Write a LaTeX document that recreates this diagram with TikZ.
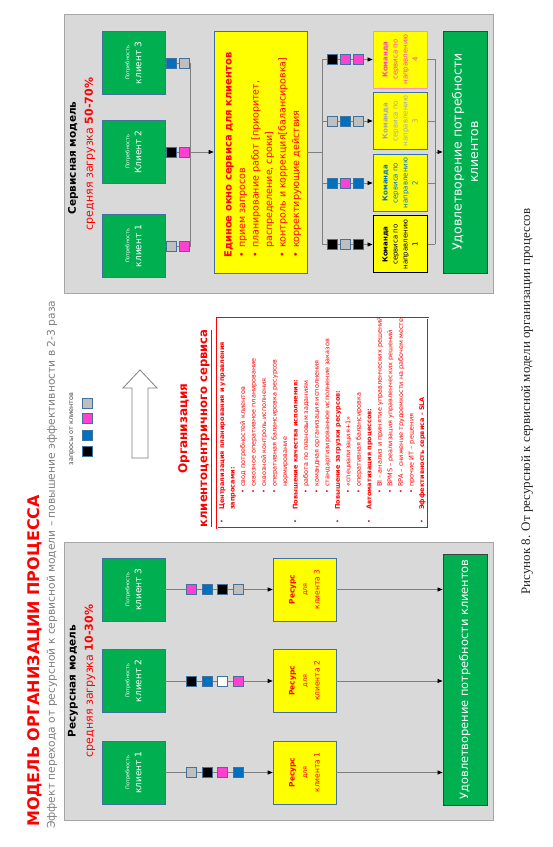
\documentclass[tikz,border=0pt]{standalone}
\usepackage{fontspec}
\setmainfont{DejaVu Sans}
\newfontfamily\capfont{Liberation Serif}
\usetikzlibrary{arrows.meta}
\definecolor{bgray}{HTML}{D9D9D9}
\definecolor{bline}{HTML}{A6A6A6}
\definecolor{lgray}{HTML}{7F7F7F}
\definecolor{cgreen}{HTML}{00B050}
\definecolor{cyel}{HTML}{FFFF00}
\definecolor{cedge}{HTML}{41719C}
\definecolor{qgray}{HTML}{BFBFBF}
\definecolor{qpink}{HTML}{FF40D0}
\definecolor{qblue}{HTML}{0070C0}
\definecolor{qblack}{HTML}{000000}
\definecolor{qwhite}{HTML}{FFFFFF}
\definecolor{cred}{HTML}{FF0000}
\definecolor{subgray}{HTML}{808080}
\definecolor{tthree}{HTML}{A6A6A6}
\definecolor{tfour}{HTML}{FF3FBF}
\definecolor{tfouredge}{HTML}{FF8FC8}
\definecolor{ttwoedge}{HTML}{2E75B6}
\newcommand\myfs[2]{\fontsize{#1}{#2}\selectfont}
\newcommand\lsttxt[3]{\node[lst] (L#1) at (#2,{329-10.53*(#1-1)}) {#3};}
\newcommand\lstbul[2]{\node[lst] (B#1) at (#2,{329-10.53*(#1-1)}) {•};}
\tikzset{
 panel/.style={draw=bline, fill=bgray, line width=0.8pt},
 client/.style={draw=cedge, fill=cgreen, line width=0.6pt, minimum width=63pt, minimum height=63pt, inner sep=0pt, align=center, text=white},
 resbox/.style={draw=cedge, fill=cyel, line width=0.6pt, minimum width=63pt, minimum height=63pt, inner sep=0pt, align=center, text=cred, font=\myfs{7.5}{12.5}},
 sq/.style={draw=cedge, line width=0.6pt, minimum size=10pt, inner sep=0pt, fill=#1},
 conn/.style={draw=lgray, line width=0.7pt},
 arr/.style={conn, -{Triangle[length=5pt,width=4pt,color=black]}},
 bar/.style={draw=black!75, fill=cgreen, line width=0.9pt, inner sep=0pt, text=white, align=center},
 team/.style={fill=cyel, line width=0.8pt, minimum width=57pt, minimum height=54pt, inner sep=0pt, align=center, font=\myfs{7}{10}},
 lst/.style={anchor=base west, inner sep=0pt, text=cred, font=\myfs{6.5}{8}},
 bt/.style={anchor=base west, inner sep=0pt, text=cred, font=\myfs{9.5}{11}},
 redbox/.style={draw=cred, double=white, double distance=0.7pt, line width=0.6pt},
}
\begin{document}
\begin{tikzpicture}[x=1pt,y=1pt]
\fill[white] (0,0) rectangle (553,847);
\useasboundingbox (0,0) rectangle (553,847);
\begin{scope}[shift={(553,0)},rotate=90,transform shape]
% title
\node[anchor=west,inner sep=0pt,text=cred,font=\bfseries\myfs{16}{19}] (title) at (20,518) {МОДЕЛЬ ОРГАНИЗАЦИИ ПРОЦЕССА};
\node[anchor=west,inner sep=0pt,text=subgray,font=\myfs{10.7}{13}] (subtitle) at (18,501) {Эффект перехода от ресурсной к сервисной модели – повышение эффективности в 2-3 раза};
% panels
\draw[panel] (27,60) rectangle (305,489);
\draw[panel] (554,60) rectangle (833,489);
\node[font=\bfseries\myfs{10.5}{12}] (rhead) at (166,480) {Ресурсная модель};
\node[text=cred,font=\myfs{11}{13}] (rload) at (166,463) {средняя загрузка \textbf{10-30\%}};
\node[font=\bfseries\myfs{10.5}{12}] (shead) at (689,480) {Сервисная модель};
\node[text=cred,font=\myfs{11}{13}] (sload) at (693,463) {средняя загрузка \textbf{50-70\%}};
% ===== resource model
\node[bar, minimum width=251pt, minimum height=44pt, font=\myfs{11.4}{14}] (rbar) at (167.5,88) {Удовлетворение потребности клиентов};
\foreach \i/\x/\a/\b/\c/\d in {1/74.5/qgray/qblack/qpink/qblue, 2/166/qblack/qblue/qwhite/qpink, 3/257.5/qpink/qblue/qblack/qgray}{
  \node[client] (rc\i) at (\x,419.5) {\myfs{5}{11.5}Потребность\\\myfs{9}{11.5}клиент \i};
  \node[resbox] (rr\i) at (\x,248.5) {\textbf{Ресурс}\\{\myfs{6.5}{12.5}для}\\клиента \i};
  \draw[arr] (rc\i.south) -- (rr\i.north);
  \draw[arr] (rr\i.south) -- (rr\i.south |- rbar.north);
  \node[sq=\a] (ra\i) at (\x,362) {};
  \node[sq=\b] (rb\i) at (\x,346) {};
  \node[sq=\c] (rcc\i) at (\x,331) {};
  \node[sq=\d] (rd\i) at (\x,315) {};
}
% ===== legend and arrow
\node[font=\myfs{6.5}{8}, text=black!75] (legtxt) at (418,481) {запросы от клиентов};
\node[sq=qblack] (lg1) at (395.3,466) {};
\node[sq=qblue] (lg2) at (412,466) {};
\node[sq=qpink] (lg3) at (428.7,466) {};
\node[sq=qgray] (lg4) at (443.7,466) {};
\draw[draw=lgray, fill=white, line width=0.8pt] (389,405) -- (459,405) -- (459,396) -- (477,413) -- (459,430) -- (459,421) -- (389,421) -- cycle;
\node[text=cred, font=\bfseries\myfs{12}{14}] (org1) at (418.5,369) {Организация};
\node[text=cred, font=\bfseries\myfs{11.6}{14}] (org2) at (418.5,347) {\underline{клиентоцентричного сервиса}};
% ===== red box list
\draw[redbox] (319,125) rectangle (529,336);
\lstbul{1}{323}\lsttxt{1}{337}{\textbf{Централизация планирования и управления}}
\lsttxt{2}{337}{\textbf{запросами:}}
\lstbul{3}{353}\lsttxt{3}{360}{свод потребностей клиентов}
\lstbul{4}{353}\lsttxt{4}{360}{сквозное оперативное планирование}
\lstbul{5}{353}\lsttxt{5}{360}{сквозной контроль исполнения}
\lstbul{6}{353}\lsttxt{6}{360}{оперативная балансировка ресурсов}
\lsttxt{7}{360}{нормирование}
\lstbul{8}{323}\lsttxt{8}{337}{\textbf{Повышение качества исполнения:}}
\lstbul{9}{353}\lsttxt{9}{360}{работа по плановым заданиям}
\lstbul{10}{353}\lsttxt{10}{360}{командная организация исполнения}
\lstbul{11}{353}\lsttxt{11}{360}{стандартизированное исполнение заказов}
\lstbul{12}{323}\lsttxt{12}{337}{\textbf{Повышение загрузки ресурсов:}}
\lstbul{13}{353}\lsttxt{13}{360}{«специализация+1»}
\lstbul{14}{353}\lsttxt{14}{360}{оперативная балансировка}
\lstbul{15}{323}\lsttxt{15}{337}{\textbf{Автоматизация процессов:}}
\lstbul{16}{353}\lsttxt{16}{360}{BI – анализ и принятие управленческих решений}
\lstbul{17}{353}\lsttxt{17}{360}{BPMS – реализация управленческих решений}
\lstbul{18}{353}\lsttxt{18}{360}{RPA – снижение трудоемкости на рабочем месте}
\lstbul{19}{353}\lsttxt{19}{360}{прочие ИТ – решения}
\lstbul{20}{323}\lsttxt{20}{337}{\textbf{Эффективность сервиса - SLA}}
% ===== service model
\node[client] (sc1) at (601,419.5) {\myfs{5}{11.5}Потребность\\\myfs{9}{11.5}клиент 1};
\node[client] (sc2) at (695,419.5) {\myfs{5}{11.5}Потребность\\\myfs{9}{11.5}Клиент 2};
\node[client] (sc3) at (784,419.5) {\myfs{5}{11.5}Потребность\\\myfs{9}{11.5}клиент 3};
\node[draw=cedge, fill=cyel, line width=0.6pt, minimum width=242pt, minimum height=93pt] (big) at (695,292.5) {};
\coordinate (j1) at (601,363);
\coordinate (j2) at (695,363);
\coordinate (j3) at (784,363);
\draw[conn] (sc1.south) -- (j1) -- (j3) -- (sc3.south);
\draw[conn] (sc2.south) -- (j2);
\draw[arr] (j2) -- (big.north);
\node[sq=qgray] (s1a) at (601,382) {};
\node[sq=qpink] (s1b) at (601,369) {};
\node[sq=qblack] (s2a) at (695,382) {};
\node[sq=qpink] (s2b) at (695,369) {};
\node[sq=qblue] (s3a) at (784,382) {};
\node[sq=qgray] (s3b) at (784,369) {};
% big box text
\node[bt, font=\bfseries\myfs{10}{12}] (bt0) at (589,321.5) {Единое окно сервиса для клиентов};
\node[bt] (bb1) at (589.5,308) {•}; \node[bt] (bt1) at (599,308) {прием запросов};
\node[bt] (bb2) at (589.5,294.5) {•}; \node[bt] (bt2) at (599,294.5) {планирование работ [приоритет,};
\node[bt] (bt3) at (599,281) {распределение, сроки]};
\node[bt] (bb4) at (589.5,267.5) {•}; \node[bt] (bt4) at (599,267.5) {контроль и коррекция[балансировка]};
\node[bt] (bb5) at (589.5,254) {•}; \node[bt] (bt5) at (599,254) {корректирующие действия};
% teams
\node[team, draw=black, text=black, line width=1pt] (tm1) at (602.5,153) {\textbf{Команда}\\сервиса по\\направлению\\1};
\node[team, draw=ttwoedge, text=qblue] (tm2) at (664,153) {\textbf{Команда}\\сервиса по\\направлению\\2};
\node[team, draw=cedge, text=tthree] (tm3) at (726,153) {\textbf{Команда}\\сервиса по\\направлению\\3};
\node[team, draw=tfouredge, text=tfour] (tm4) at (787.5,153) {\textbf{Команда}\\сервиса по\\направлению\\4};
\node[bar, minimum width=242pt, minimum height=44pt, font=\myfs{12.5}{16.5}] (sbar) at (695,88) {Удовлетворение потребности\\клиентов};
\coordinate (k0) at (695,231);
\coordinate (k1) at (602.5,231);
\coordinate (k4) at (787.5,231);
\draw[conn] (big.south) -- (k0);
\draw[conn] (k1) -- (k4);
\foreach \i in {1,2,3,4}{
  \draw[arr] (tm\i.north |- k0) -- (tm\i.north);
  \draw[conn] (tm\i.south) -- (tm\i.south |- 0,118) coordinate (m\i);
}
\draw[conn] (m1) -- (m4);
\coordinate (m0) at (695,118);
\draw[arr] (m0) -- (sbar.north);
\foreach \i/\x/\a/\b/\c in {1/602.5/qblack/qgray/qblack, 2/664/qblue/qpink/qblue, 3/726/qgray/qblue/qgray, 4/787.5/qblack/qpink/qpink}{
  \node[sq=\a] (ta\i) at (\x,221) {};
  \node[sq=\b] (tb\i) at (\x,208) {};
  \node[sq=\c] (tc\i) at (\x,195) {};
}
% caption
\node[font=\capfont\myfs{13}{15}, text=black!85] (cap) at (445.5,26) {Рисунок 8. От ресурсной к сервисной модели организации процессов};
\end{scope}
\end{tikzpicture}
\end{document}
